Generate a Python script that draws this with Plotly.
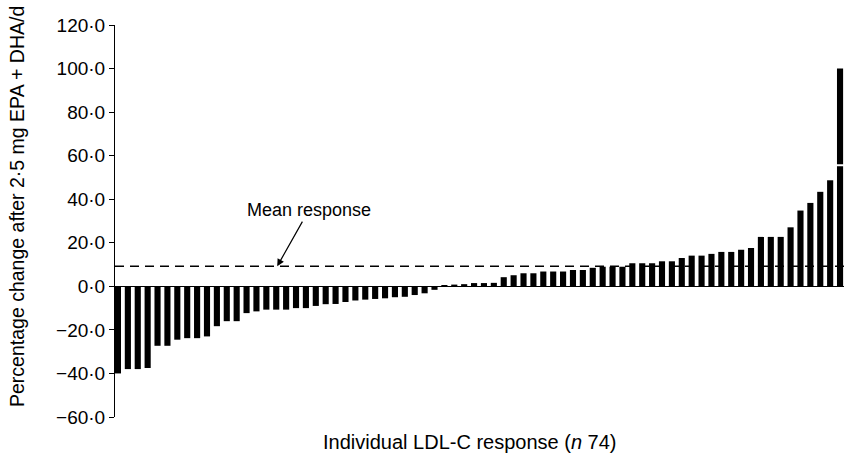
import plotly.graph_objects as go

# Individual LDL-C responses (% change), sorted ascending
values = [
    -40.0, -38.0, -38.0, -37.5, -27.3, -27.3, -24.5, -23.8, -23.8, -23.0,
    -18.3, -16.0, -16.0, -12.3, -11.5, -10.7, -10.7, -10.7, -10.0, -10.0,
    -9.0, -8.2, -8.1, -7.2, -6.5, -6.1, -5.8, -5.5, -5.0, -4.8,
    -4.0, -3.2, -1.6, 0.2, 0.8, 1.0, 1.5, 1.5, 1.6, 4.2,
    5.1, 6.0, 6.0, 6.8, 6.8, 6.8, 7.5, 7.5, 8.5, 9.0,
    9.0, 9.0, 10.6, 10.6, 10.6, 11.5, 11.5, 13.0, 14.1, 14.1,
    14.9, 15.8, 15.8, 16.8, 17.6, 22.7, 22.7, 22.7, 27.1, 34.8,
    38.3, 43.4, 48.7, 100.0,
]
participants = list(range(len(values)))

mean_response = 9.2
break_value = 55.6

y_tick_values = [-60, -40, -20, 0, 20, 40, 60, 80, 100, 120]
y_tick_labels = ["\u221260\u00b70", "\u221240\u00b70", "\u221220\u00b70", "0\u00b70",
                 "20\u00b70", "40\u00b70", "60\u00b70", "80\u00b70", "100\u00b70", "120\u00b70"]

FONT = "Liberation Sans, Arial, Helvetica, sans-serif"

fig = go.Figure()
fig.add_trace(go.Bar(
    x=participants, y=values, width=0.62,
    marker=dict(color="black", line=dict(width=0)),
    showlegend=False, hoverinfo="skip",
))

fig.update_layout(
    width=844, height=462,
    margin=dict(l=115, r=0, t=25, b=45),
    paper_bgcolor="white", plot_bgcolor="white",
    font=dict(family=FONT, size=19, color="black"),
    xaxis=dict(range=[-0.3, 73.4], visible=False),
    yaxis=dict(
        range=[-60, 120], tickvals=y_tick_values, ticktext=y_tick_labels,
        ticks="outside", ticklen=5, tickwidth=1, tickcolor="black",
        showline=True, linecolor="black", linewidth=1,
        showgrid=False, zeroline=True, zerolinecolor="black", zerolinewidth=1,
        tickfont=dict(family=FONT, size=19, color="black"),
    ),
    shapes=[
        dict(type="line", xref="paper", yref="y", x0=0, x1=1,
             y0=mean_response, y1=mean_response,
             line=dict(color="black", width=1.6, dash="9px,6px")),
        dict(type="line", xref="x", yref="y", x0=participants[-1] - 0.45,
             x1=participants[-1] + 0.45, y0=break_value, y1=break_value,
             line=dict(color="white", width=2)),
    ],
    annotations=[
        dict(text="Mean response", x=16.1, y=mean_response, xref="x", yref="y",
             ax=19.3, ay=35, axref="x", ayref="y", showarrow=True,
             arrowhead=2, arrowsize=1.2, arrowwidth=1.2, arrowcolor="black",
             font=dict(family=FONT, size=18, color="black")),
        dict(text="Individual LDL-C response (<i>n</i> 74)", xref="paper", yref="paper",
             x=(470 - 115) / 729, y=(417 - 442) / 392, showarrow=False,
             xanchor="center", yanchor="middle",
             font=dict(family=FONT, size=20, color="black")),
        dict(text="Percentage change after 2\u00b75 mg EPA + DHA/d", xref="paper", yref="paper",
             x=(17 - 115) / 729, y=(417 - 207) / 392, showarrow=False, textangle=-90,
             xanchor="center", yanchor="middle",
             font=dict(family=FONT, size=19.5, color="black")),
    ],
)

fig.write_html("out.html", config={"displayModeBar": False},
               post_script="document.body.style.margin='0';document.body.style.overflow='hidden';")
